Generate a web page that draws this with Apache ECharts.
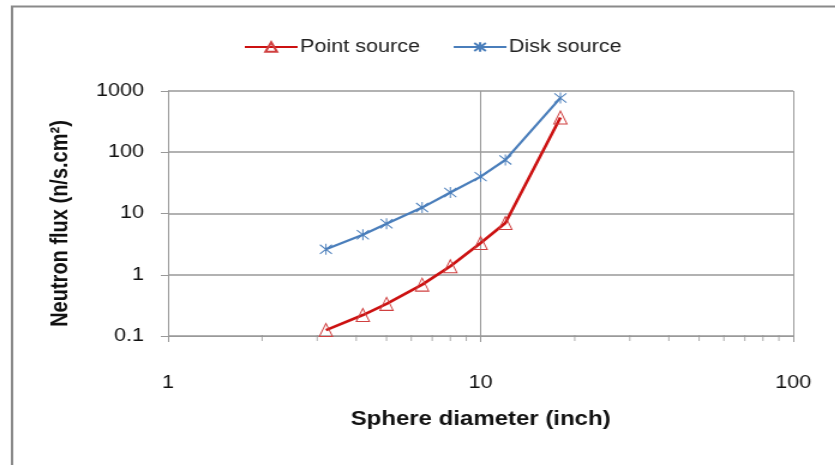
<!DOCTYPE html>
<html>
<head>
<meta charset="utf-8">
<script src="https://cdn.jsdelivr.net/npm/echarts@6/dist/echarts.min.js"></script>
<style>
html,body{margin:0;padding:0;background:#fff;overflow:hidden}
#wrap{width:835px;height:465px;overflow:hidden;position:relative}
#c{width:696px;height:465px;transform:scaleX(1.2);transform-origin:0 0;position:absolute;left:0;top:0}
</style>
</head>
<body>
<div id="wrap"><div id="c"></div></div>
<script>
var diameters = [3.2, 4.2, 5, 6.5, 8, 10, 12, 18];
var pointSource = [0.125, 0.22, 0.335, 0.69, 1.38, 3.3, 7.0, 370];
var diskSource = [2.6, 4.5, 6.8, 12.5, 22, 40, 75, 770];
var seriesNames = ['Point source', 'Disk source'];
var xMinorTicks = [2, 3, 4, 5, 6, 7, 8, 9, 20, 30, 40, 50, 60, 70, 80, 90];
var xAxisTitle = 'Sphere diameter (inch)';
var yAxisTitle = 'Neutron flux (n/s.cm\u00B2)';

function pairs(xs, ys) { return xs.map(function (x, i) { return [x, ys[i]]; }); }

var starPath = 'path://M0,0L10,10M10,0L0,10M5,-1L5,11';
var chart = echarts.init(document.getElementById('c'));
var font = 'Liberation Sans, Arial, sans-serif';
chart.setOption({
  animation: false,
  backgroundColor: '#fff',
  graphic: [{
    type: 'rect', left: 7.5, top: 4, shape: { width: 900, height: 500 },
    style: { fill: 'none', stroke: '#8a8a8a', lineWidth: 2 }, silent: true, z: -1
  }],
  legend: {
    top: 33, left: 198, itemGap: 27, itemWidth: 44, itemHeight: 12,
    textStyle: { fontFamily: font, fontSize: 18, color: '#222', padding: [0, 0, 0, -3] },
    data: seriesNames
  },
  grid: { left: 140, right: 35, top: 91, bottom: 129 },
  xAxis: {
    type: 'log', logBase: 10, min: 1, max: 100,
    name: xAxisTitle, nameLocation: 'middle', nameGap: 73,
    nameTextStyle: { fontFamily: font, fontSize: 20, fontWeight: 'bold', color: '#111' },
    axisLine: { show: true, lineStyle: { color: '#999', width: 1 } },
    axisTick: { show: true, inside: false, length: 6, lineStyle: { color: '#999' } },
    axisLabel: { fontFamily: font, fontSize: 18, color: '#111', margin: 38 },
    splitLine: { show: true, lineStyle: { color: '#999', width: 1 } },
    minorTick: { show: false }
  },
  yAxis: {
    type: 'log', logBase: 10, min: 0.1, max: 1000,
    name: yAxisTitle, nameLocation: 'middle', nameGap: 80, nameRotate: 90,
    nameTextStyle: { fontFamily: font, fontSize: 20, fontWeight: 'bold', color: '#111', padding: [0, 20, 0, 0] },
    axisLine: { show: true, lineStyle: { color: '#999', width: 1 } },
    axisTick: { show: true, inside: false, length: 6, lineStyle: { color: '#999' } },
    axisLabel: {
      fontFamily: font, fontSize: 18, color: '#111', margin: 20,
      formatter: function (v) { return String(+v.toPrecision(6)); }
    },
    splitLine: { show: true, lineStyle: { color: '#999', width: 1.5 } }
  },
  series: [
    {
      name: 'minorTicks', type: 'scatter', silent: true, z: 1,
      data: xMinorTicks.map(function (x) { return [x, 0.1]; }),
      symbol: 'rect', symbolSize: [1, 6], symbolOffset: [0, 2],
      itemStyle: { color: '#999' }
    },
    {
      name: seriesNames[0], type: 'line', data: pairs(diameters, pointSource),
      symbol: 'triangle', symbolSize: [11, 13], z: 3,
      lineStyle: { color: '#cc1111', width: 2.6 },
      itemStyle: { color: 'rgba(255,255,255,0)', borderColor: '#d04040', borderWidth: 1 }
    },
    {
      name: seriesNames[1], type: 'line', data: pairs(diameters, diskSource),
      symbol: starPath, symbolSize: [10, 11], z: 2,
      lineStyle: { color: '#4a7ebb', width: 2.2 },
      itemStyle: { color: 'rgba(255,255,255,0)', borderColor: '#4a7ebb', borderWidth: 1 }
    }
  ]
});
</script>
</body>
</html>
